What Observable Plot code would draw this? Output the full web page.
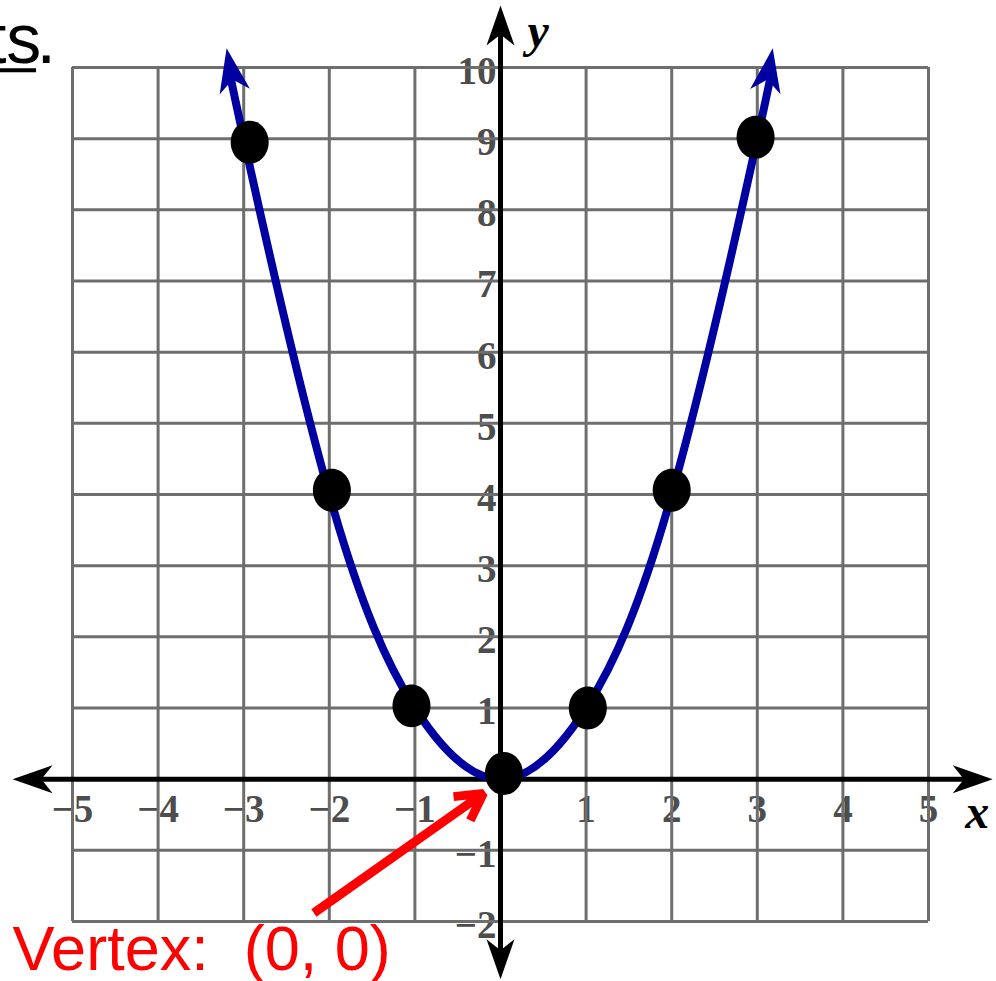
<!DOCTYPE html>
<html><head><meta charset="utf-8">
<script src="https://cdn.jsdelivr.net/npm/d3@7"></script>
<script src="https://cdn.jsdelivr.net/npm/@observablehq/plot@0.6"></script>
<style>body{margin:0;background:#fff}</style>
</head><body><div id="chart"></div>
<script>
// ---- data ----
const gridTicksX = [-5,-4,-3,-2,-1,0,1,2,3,4,5];
const gridTicksY = [-2,-1,0,1,2,3,4,5,6,7,8,9,10];
const xTickValues = [-5,-4,-3,-2,-1,1,2,3,4,5];
const xTickLabels = ["−5","−4","−3","−2","−1","1","2","3","4","5"];
const yTickValues = [10,9,8,7,6,5,4,3,2,1,-1,-2];
const yTickLabels = ["10","9","8","7","6","5","4","3","2","1","−1","−2"];
const pointX = [-2.93,-1.97,-1.04,0.04,1.02,2.0,2.98];
const pointY = [8.95,4.06,1.03,0.08,1.0,4.06,9.02];
const curveX = [-3.15,-3,-2,-1,0,1,2,3,3.15];
const curveY = [9.9,9,4,1,0,1,4,9,9.9];
const curveTipX = [-3.20, 3.18];
const curveTipY = [10.27, 10.27];
const axisXEnds = [-5.70, 5.75];
const axisYEnds = [-2.81, 10.87];
const calloutFrom = [-2.18, -1.88];
const calloutTo = [-0.20, -0.20];
const calloutText = "Vertex:\u00a0 (0, 0)";
const headerWord = "ts";
const headerDot = ".";

// ---- layout ----
const W = 996, H = 981, ML = 72, MR = 68, MT = 67, MB = 60;
const kx = (W - ML - MR) / 10, ky = (H - MT - MB) / 12;
function rot(tx, ty, bx, by) { // clockwise degrees from "up"
  const dx = (tx - bx) * kx, dy = -(ty - by) * ky;
  return Math.atan2(dx, -dy) * 180 / Math.PI;
}
const arrowHead = { draw(ctx, size) {
  const r = Math.sqrt(size / Math.PI);
  ctx.moveTo(0, 0); ctx.lineTo(r * 0.35, r); ctx.lineTo(0, r * 0.72);
  ctx.lineTo(-r * 0.35, r); ctx.closePath();
}};
const ellipse = { draw(ctx, size) {
  const rx = Math.sqrt(size / Math.PI), ry = rx * 1.13, k = 0.5523;
  ctx.moveTo(rx, 0);
  ctx.bezierCurveTo(rx, k*ry, k*rx, ry, 0, ry);
  ctx.bezierCurveTo(-k*rx, ry, -rx, k*ry, -rx, 0);
  ctx.bezierCurveTo(-rx, -k*ry, -k*rx, -ry, 0, -ry);
  ctx.bezierCurveTo(k*rx, -ry, rx, -k*ry, rx, 0);
  ctx.closePath();
}};

const points = pointX.map((x, i) => ({x, y: pointY[i]}));
const curve = curveX.map((x, i) => ({x, y: curveY[i]}));
const curveTips = curveTipX.map((x, i) => ({x, y: curveTipY[i],
  r: rot(x, curveTipY[i], curveX[i === 0 ? 1 : curveX.length - 2], curveY[i === 0 ? 1 : curveY.length - 2])}));
const axisTips = [
  {x: axisXEnds[0], y: 0}, {x: axisXEnds[1], y: 0},
  {x: 0, y: axisYEnds[0]}, {x: 0, y: axisYEnds[1]}
].map(d => ({...d, r: rot(d.x, d.y, 0, 0)}));
const inset = 20;
const tickFont = {fontSize: 39, fontFamily: "Liberation Serif", fontWeight: "bold", fill: "#4d4d4d"};

const chart = Plot.plot({
  width: W, height: H,
  marginLeft: ML, marginRight: MR, marginTop: MT, marginBottom: MB,
  x: {domain: [-5, 5], axis: null},
  y: {domain: [-2, 10], axis: null},
  style: {background: "white"},
  marks: [
    Plot.text(xTickValues, {x: d => d, y: 0, text: (d, i) => xTickLabels[i], dy: 30, ...tickFont}),
    Plot.text(yTickValues, {x: 0, y: d => d, text: (d, i) => yTickLabels[i], dy: 4, dx: -4,
      textAnchor: "end", ...tickFont}),
    Plot.gridX(gridTicksX, {stroke: "#6e6e6e", strokeOpacity: 1, strokeWidth: 3}),
    Plot.gridY(gridTicksY, {stroke: "#6e6e6e", strokeOpacity: 1, strokeWidth: 3}),
    Plot.ruleY([0], {x1: axisXEnds[0] + inset / kx, x2: axisXEnds[1] - inset / kx, stroke: "black", strokeWidth: 5}),
    Plot.ruleX([0], {y1: axisYEnds[0] + inset / ky, y2: axisYEnds[1] - inset / ky, stroke: "black", strokeWidth: 5}),
    Plot.dot(axisTips, {x: "x", y: "y", rotate: "r", symbol: arrowHead, r: 40, fill: "black", stroke: "none"}),
    Plot.text(["x"], {x: 5.57, y: -0.47, fontSize: 48, fontFamily: "Liberation Serif",
      fontStyle: "italic", fontWeight: "bold", fill: "black"}),
    Plot.text(["y"], {x: 0.44, y: 10.5, fontSize: 48, fontFamily: "Liberation Serif",
      fontStyle: "italic", fontWeight: "bold", fill: "black"}),
    Plot.line(curve, {x: "x", y: "y", curve: "natural", stroke: "#0000a0", strokeWidth: 8, strokeLinecap: "butt"}),
    Plot.dot(curveTips, {x: "x", y: "y", rotate: "r", symbol: arrowHead, r: 44, fill: "#0000a0", stroke: "none"}),
    Plot.dot(points, {x: "x", y: "y", symbol: ellipse, r: 19, fill: "black", stroke: "none"}),
    Plot.arrow([0], {x1: calloutFrom[0], y1: calloutFrom[1], x2: calloutTo[0], y2: calloutTo[1],
      stroke: "#ff0000", strokeWidth: 9, headLength: 5, headAngle: 58, strokeLinecap: "butt"}),
    Plot.text([calloutText], {x: -5.7, y: -2.68, textAnchor: "start", lineAnchor: "bottom",
      fontSize: 63, fontFamily: "Liberation Sans", fill: "#ff0000"}),
    Plot.text([headerWord], {x: -6.0, y: 10.06, textAnchor: "start", lineAnchor: "bottom",
      fontSize: 70, fontFamily: "Liberation Sans", fill: "black"}),
    Plot.text([headerDot], {x: -5.42, y: 10.06, textAnchor: "start", lineAnchor: "bottom",
      fontSize: 70, fontFamily: "Liberation Sans", fill: "black"}),
    Plot.ruleY([10.06 - 7 / ky], {x1: -6.0, x2: -5.42, stroke: "black", strokeWidth: 4})
  ]
});
document.getElementById("chart").appendChild(chart);
</script>
</body></html>
